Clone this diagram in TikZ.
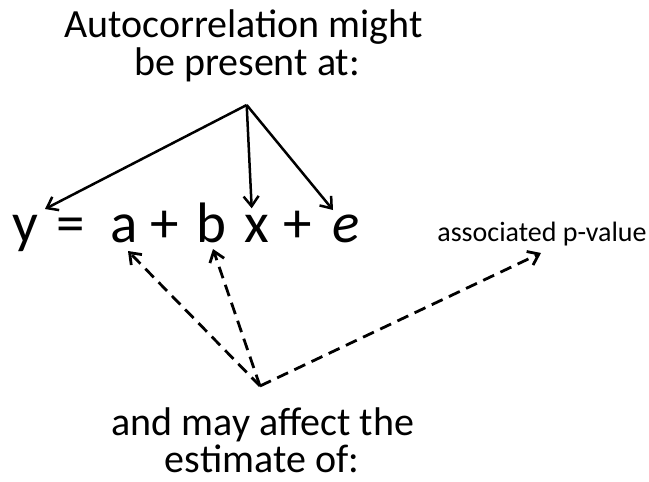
\documentclass[tikz,border=0pt]{standalone}
\usepackage{fontspec}
\setmainfont{Carlito}
\usetikzlibrary{arrows.meta,calc}
\begin{document}
\begin{tikzpicture}[x=1pt,y=-1pt,
  lbl/.style={inner sep=0pt,anchor=base,font=\fontsize{40}{44}\selectfont},
  eqsym/.style={inner sep=0pt,anchor=base,font=\fontsize{57}{60}\selectfont},
  smalllbl/.style={inner sep=0pt,anchor=base,font=\fontsize{28}{32}\selectfont},
  solidarrow/.style={line width=2.5pt,-{Straight Barb[length=10pt,width=15pt]}},
  dasharrow/.style={line width=2.8pt,dash pattern=on 12pt off 7pt,-{Straight Barb[length=10pt,width=15pt]}}
]
\useasboundingbox (0,0) rectangle (649,482);
\fill[white] (0,0) rectangle (649,482);
% header
\node[lbl] (h1) at (243.5,37) {Autocorrelation might};
\node[lbl] (h2) at (247,75) {be present at:};
% equation
\node[eqsym] (ny) at (25,242) {y};
\node[eqsym] (neq) at (71,242) {=};
\node[eqsym] (na) at (124,242) {a};
\node[eqsym] (np1) at (164.5,242) {+};
\node[eqsym] (nb) at (211,242) {b};
\node[eqsym] (nx) at (257,242) {x};
\node[eqsym] (np2) at (297.5,242) {+};
\node[eqsym] (ne) at (346.5,242) {\itshape e};
\node[smalllbl] (pv) at (542,241) {associated p-value};
% footer
\node[lbl] (f1) at (263,435) {and may affect the};
\node[lbl] (f2) at (262,472) {estimate of:};
% connector hubs
\coordinate (apex) at (246.7,105);
\coordinate (vtx) at (260,386);
% solid arrows
\draw[solidarrow] (apex) -- ($(ny.base)+(20,-33)$);
\draw[solidarrow] (apex) -- ($(nx.base)+(-5.3,-33.7)$);
\draw[solidarrow] (apex) -- ($(ne.base)+(-13.5,-32)$);
% dashed arrows
\draw[dasharrow] (vtx) -- ($(na.base)+(4,9)$);
\draw[dasharrow] (vtx) -- ($(nb.base)+(2,7)$);
\draw[dasharrow] (vtx) -- ($(pv.base)+(-1,12)$);
\end{tikzpicture}
\end{document}
